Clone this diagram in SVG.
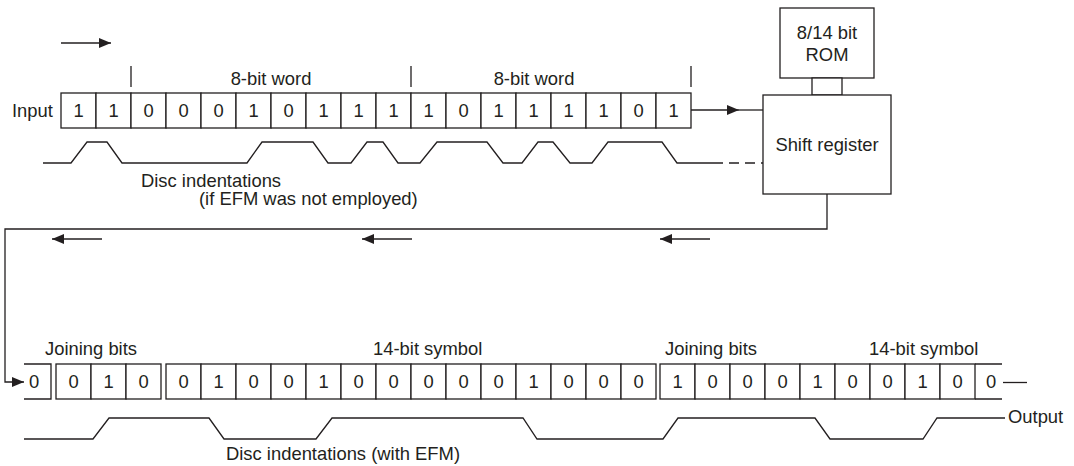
<svg xmlns="http://www.w3.org/2000/svg" width="1074" height="466" viewBox="0 0 1074 466">
<style>
.ln{fill:none;stroke:#231f20;stroke-width:1.3}
.bx{fill:#fff;stroke:#231f20;stroke-width:1.3}
text{font-family:"Liberation Sans",Arial,sans-serif;font-size:18.4px;fill:#231f20}
.c{text-anchor:middle}
</style>
<defs>
<marker id="ah" viewBox="0 0 12 10" refX="12" refY="5" markerWidth="12" markerHeight="10" markerUnits="userSpaceOnUse" orient="auto">
<path d="M0,0 L12,5 L0,10 z" fill="#231f20"/>
</marker>
</defs>
<rect width="1074" height="466" fill="#fff"/>

<g id="input-register">
<text x="12" y="117">Input</text>
<g class="bx">
<rect x="61" y="93" width="35" height="35"/><rect x="96" y="93" width="35" height="35"/><rect x="131" y="93" width="35" height="35"/><rect x="166" y="93" width="35" height="35"/><rect x="201" y="93" width="35" height="35"/><rect x="236" y="93" width="35" height="35"/><rect x="271" y="93" width="35" height="35"/><rect x="306" y="93" width="35" height="35"/><rect x="341" y="93" width="35" height="35"/><rect x="376" y="93" width="35" height="35"/><rect x="411" y="93" width="35" height="35"/><rect x="446" y="93" width="35" height="35"/><rect x="481" y="93" width="35" height="35"/><rect x="516" y="93" width="35" height="35"/><rect x="551" y="93" width="35" height="35"/><rect x="586" y="93" width="35" height="35"/><rect x="621" y="93" width="35" height="35"/><rect x="656" y="93" width="35" height="35"/>
</g>
<g class="c">
<text x="78.5" y="117">1</text><text x="113.5" y="117">1</text><text x="148.5" y="117">0</text><text x="183.5" y="117">0</text><text x="218.5" y="117">0</text><text x="253.5" y="117">1</text><text x="288.5" y="117">0</text><text x="323.5" y="117">1</text><text x="358.5" y="117">1</text><text x="393.5" y="117">1</text><text x="428.5" y="117">1</text><text x="463.5" y="117">0</text><text x="498.5" y="117">1</text><text x="533.5" y="117">1</text><text x="568.5" y="117">1</text><text x="603.5" y="117">1</text><text x="638.5" y="117">0</text><text x="673.5" y="117">1</text>
</g>
<path class="ln" d="M131,66 V87 M411,66 V87 M691,66 V87"/>
<text class="c" x="271" y="85">8-bit word</text>
<text class="c" x="534" y="85">8-bit word</text>
</g>

<g id="rom">
<rect class="bx" x="780" y="8" width="94" height="70"/>
<text class="c" x="827" y="39">8/14 bit</text>
<text class="c" x="827" y="61">ROM</text>
<rect class="bx" x="812" y="78" width="30" height="17"/>
</g>

<g id="shift-register">
<rect class="bx" x="763" y="95" width="128" height="99"/>
<text class="c" x="827" y="151">Shift register</text>
</g>

<g id="top-waveform">
<path class="ln" d="M43,163 H71 L87,142 H107 L122,163 H247 L262,142 H313 L328,163 H351 L367,142 H383 L398,163 H420 L437,142 H487 L503,163 H522 L538,142 H553 L570,163 H592 L608,142 H662 L677,163 H713"/>
<path class="ln" d="M713,163 H763" stroke-dasharray="10 6"/>
<text x="141" y="187">Disc indentations</text>
<text x="199" y="205">(if EFM was not employed)</text>
</g>

<g id="output-register">
<path class="ln" d="M24,364 H51 V399 H24"/>
<text class="c" x="34" y="388">0</text>
<g class="bx">
<rect x="56" y="364" width="35" height="35"/><rect x="91" y="364" width="35" height="35"/><rect x="126" y="364" width="35" height="35"/>
<rect x="166" y="364" width="35" height="35"/><rect x="201" y="364" width="35" height="35"/><rect x="236" y="364" width="35" height="35"/><rect x="271" y="364" width="35" height="35"/><rect x="306" y="364" width="35" height="35"/><rect x="341" y="364" width="35" height="35"/><rect x="376" y="364" width="35" height="35"/><rect x="411" y="364" width="35" height="35"/><rect x="446" y="364" width="35" height="35"/><rect x="481" y="364" width="35" height="35"/><rect x="516" y="364" width="35" height="35"/><rect x="551" y="364" width="35" height="35"/><rect x="586" y="364" width="35" height="35"/><rect x="621" y="364" width="35" height="35"/>
<rect x="660" y="364" width="35" height="35"/><rect x="695" y="364" width="35" height="35"/><rect x="730" y="364" width="35" height="35"/><rect x="765" y="364" width="35" height="35"/><rect x="800" y="364" width="35" height="35"/><rect x="835" y="364" width="35" height="35"/><rect x="870" y="364" width="35" height="35"/><rect x="905" y="364" width="35" height="35"/><rect x="940" y="364" width="35" height="35"/>
</g>
<path class="ln" d="M975,364 H1002 M975,399 H1002"/>
<g class="c">
<text x="73.5" y="388">0</text><text x="108.5" y="388">1</text><text x="143.5" y="388">0</text>
<text x="183.5" y="388">0</text><text x="218.5" y="388">1</text><text x="253.5" y="388">0</text><text x="288.5" y="388">0</text><text x="323.5" y="388">1</text><text x="358.5" y="388">0</text><text x="393.5" y="388">0</text><text x="428.5" y="388">0</text><text x="463.5" y="388">0</text><text x="498.5" y="388">0</text><text x="533.5" y="388">1</text><text x="568.5" y="388">0</text><text x="603.5" y="388">0</text><text x="638.5" y="388">0</text>
<text x="677.5" y="388">1</text><text x="712.5" y="388">0</text><text x="747.5" y="388">0</text><text x="782.5" y="388">0</text><text x="817.5" y="388">1</text><text x="852.5" y="388">0</text><text x="887.5" y="388">0</text><text x="922.5" y="388">1</text><text x="957.5" y="388">0</text><text x="991" y="388">0</text>
</g>
<text x="45" y="355">Joining bits</text>
<text x="373" y="355">14-bit symbol</text>
<text x="665" y="355">Joining bits</text>
<text x="869" y="355">14-bit symbol</text>
</g>

<g id="bottom-waveform">
<path class="ln" d="M24,439 H93 L109,418 H209 L224,439 H316 L332,418 H523 L537,439 H663 L678,418 H815 L830,439 H923 L937,418 H1005"/>
<text x="226" y="460">Disc indentations (with EFM)</text>
<text x="1008" y="423">Output</text>
</g>

<g id="connectors">
<path class="ln" d="M61,43 H111" marker-end="url(#ah)"/>
<path class="ln" d="M691,110 H739" marker-end="url(#ah)"/>
<path class="ln" d="M739,110 H763"/>
<path class="ln" d="M827,194 V229 H5 V382 H24" marker-end="url(#ah)"/>
<path class="ln" d="M102,239 H52" marker-end="url(#ah)"/>
<path class="ln" d="M412,239 H362" marker-end="url(#ah)"/>
<path class="ln" d="M710,239 H660" marker-end="url(#ah)"/>
<path class="ln" d="M1003,382.5 H1027"/>
</g>
</svg>
